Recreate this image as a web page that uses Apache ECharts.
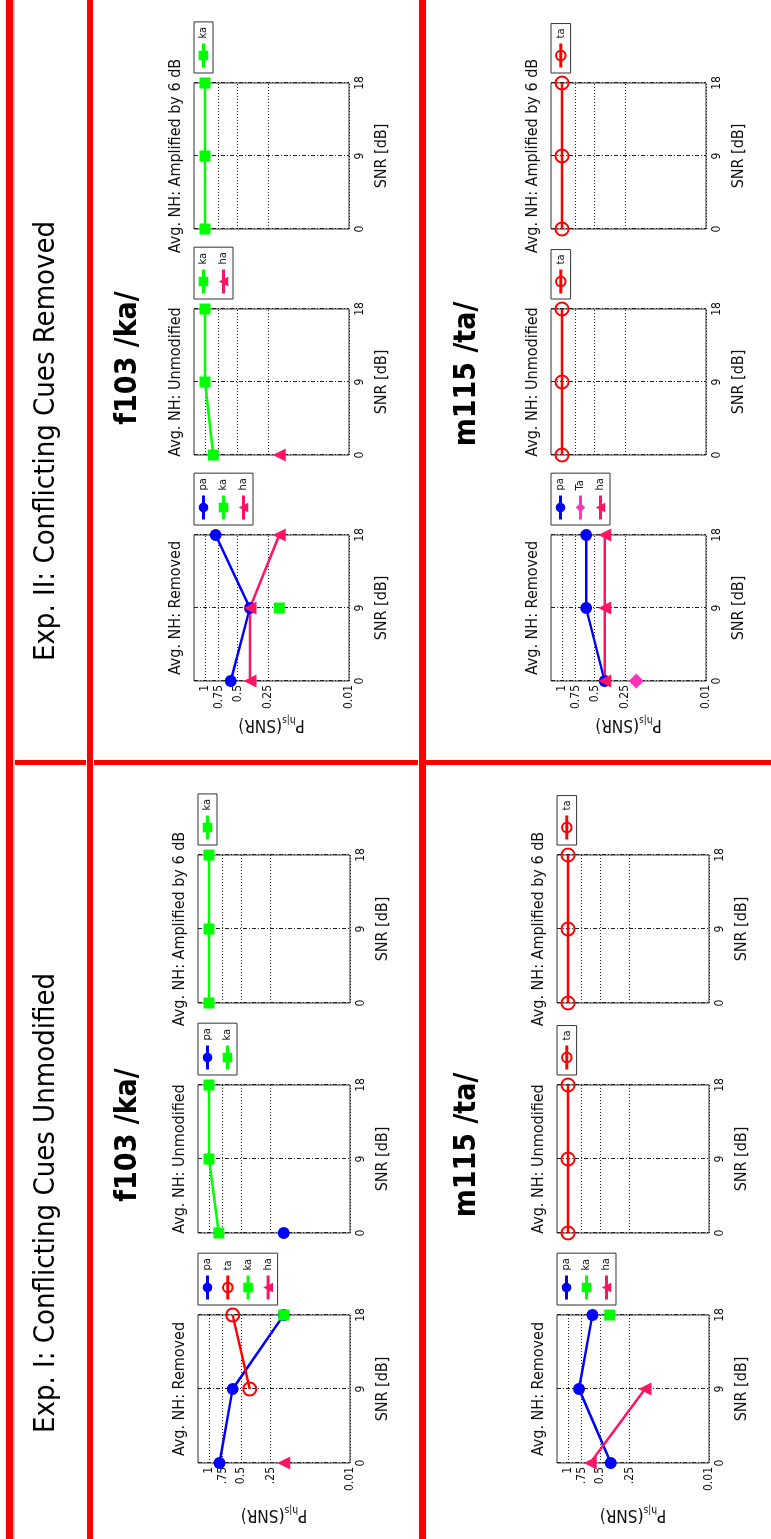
<!DOCTYPE html>
<html>
<head>
<meta charset="utf-8">
<script src="https://cdn.jsdelivr.net/npm/echarts@6/dist/echarts.min.js"></script>
<style>
html, body { margin: 0; padding: 0; background: #fff; width: 771px; height: 1539px; overflow: hidden; }
/* the figure is drawn landscape and turned a quarter turn, like the slide */
#chart { position: absolute; left: 0; top: 0; width: 1539px; height: 771px;
  transform-origin: 0 0; transform: translate(0, 1539px) rotate(-90deg); }
</style>
</head>
<body>
<div id="chart"></div>
<script>
const snr = [0, 9, 18];
const yTicks = [1, 0.75, 0.5, 0.25, 0.01];
const yTickLabelsI = ['1', '.75', '0.5', '.25', '0.01'];
const yTickLabelsII = ['1', '0.75', '0.5', '0.25', '0.01'];
const colTitles = ['Avg. NH: Removed', 'Avg. NH: Unmodified', 'Avg. NH: Amplified by 6 dB'];

// Exp. I  f103 /ka/
const expI_f103_removed_pa = [0.80, 0.60, 0.18];
const expI_f103_removed_ta = [null, 0.41, 0.60];
const expI_f103_removed_ka = [null, null, 0.18];
const expI_f103_removed_ha = [0.18, null, null];
const expI_f103_unmod_pa = [0.18, null, null];
const expI_f103_unmod_ka = [0.81, 1, 1];
const expI_f103_amp_ka = [1, 1, 1];
// Exp. I  m115 /ta/
const expI_m115_removed_pa = [0.39, 0.79, 0.59];
const expI_m115_removed_ka = [null, null, 0.40];
const expI_m115_removed_ha = [0.62, 0.17, null];
const expI_m115_unmod_ta = [1, 1, 1];
const expI_m115_amp_ta = [1, 1, 1];
// Exp. II  f103 /ka/
const expII_f103_removed_pa = [0.58, 0.38, 0.80];
const expII_f103_removed_ka = [null, 0.19, null];
const expII_f103_removed_ha = [0.38, 0.38, 0.19];
const expII_f103_unmod_ka = [0.84, 1, 1];
const expII_f103_unmod_ha = [0.19, null, null];
const expII_f103_amp_ka = [1, 1, 1];
// Exp. II  m115 /ta/
const expII_m115_removed_pa = [0.40, 0.60, 0.60];
const expII_m115_removed_Ta = [0.19, null, null];
const expII_m115_removed_ha = [0.40, 0.40, 0.40];
const expII_m115_unmod_ta = [1, 1, 1];
const expII_m115_amp_ta = [1, 1, 1];

const panels = [
  { exp: 'I', row: 0, col: 0, series: { pa: expI_f103_removed_pa, ta: expI_f103_removed_ta, ka: expI_f103_removed_ka, ha: expI_f103_removed_ha } },
  { exp: 'I', row: 0, col: 1, series: { pa: expI_f103_unmod_pa, ka: expI_f103_unmod_ka } },
  { exp: 'I', row: 0, col: 2, series: { ka: expI_f103_amp_ka } },
  { exp: 'I', row: 1, col: 0, series: { pa: expI_m115_removed_pa, ka: expI_m115_removed_ka, ha: expI_m115_removed_ha } },
  { exp: 'I', row: 1, col: 1, series: { ta: expI_m115_unmod_ta } },
  { exp: 'I', row: 1, col: 2, series: { ta: expI_m115_amp_ta } },
  { exp: 'II', row: 0, col: 0, series: { pa: expII_f103_removed_pa, ka: expII_f103_removed_ka, ha: expII_f103_removed_ha } },
  { exp: 'II', row: 0, col: 1, series: { ka: expII_f103_unmod_ka, ha: expII_f103_unmod_ha } },
  { exp: 'II', row: 0, col: 2, series: { ka: expII_f103_amp_ka } },
  { exp: 'II', row: 1, col: 0, series: { pa: expII_m115_removed_pa, Ta: expII_m115_removed_Ta, ha: expII_m115_removed_ha } },
  { exp: 'II', row: 1, col: 1, series: { ta: expII_m115_unmod_ta } },
  { exp: 'II', row: 1, col: 2, series: { ta: expII_m115_amp_ta } }
];

// y axis of the figure is squeezed near 1: plotted as log(p + 0.05)
const tf = p => Math.log(p + 0.05);

const FONT = '"Liberation Sans Narrow", "DejaVu Sans Condensed", "Arial Narrow", sans-serif';
const INK = '#111';

const marks = {
  pa: { color: '#0000ff', symbol: 'circle', size: 12 },
  ta: { color: '#ff0000', symbol: 'circle', size: 13, hollow: true },
  Ta: { color: '#ff33bb', symbol: 'diamond', size: 15 },
  ka: { color: '#00ff00', symbol: 'rect', size: 11 },
  ha: { color: '#ff1464', symbol: 'triangle', size: 13 }
};

const layout = {
  I:  { left: [76, 306, 536], top: [198, 557], width: 148, height: 152, nameGap: 42, labels: yTickLabelsI },
  II: { left: [858, 1084, 1310], top: [194, 551], width: 146, height: 155, nameGap: 34, labels: yTickLabelsII }
};

const grids = [], xAxes = [], yAxes = [], series = [], legends = [], graphics = [];
const tickT = yTicks.map(tf);

panels.forEach((pn, i) => {
  const L = layout[pn.exp];
  const left = L.left[pn.col], top = L.top[pn.row], w = L.width, h = L.height;
  const k = (h - 11) / (tf(1) - tf(0.01));
  grids.push({ left: left, top: top, width: w, height: h, show: true,
    borderColor: '#333', borderWidth: 1, backgroundColor: '#fff' });
  xAxes.push({
    type: 'value', gridIndex: i, min: 0, max: 18, interval: 9,
    name: 'SNR [dB]', nameLocation: 'middle', nameGap: 25,
    nameTextStyle: { fontFamily: FONT, fontSize: 16, color: INK },
    axisLine: { show: false }, axisTick: { show: false },
    axisLabel: { fontFamily: FONT, fontSize: 12, color: INK, margin: 5 },
    splitLine: { show: true, lineStyle: { color: '#222', type: [4, 2, 1, 2], width: 1 } }
  });
  yAxes.push({
    type: 'value', gridIndex: i, min: tf(0.01), max: tf(1) + 11 / k,
    name: pn.col === 0 ? '{p|P}{s|h|s}{n|(SNR)}' : '',
    nameLocation: 'middle', nameGap: L.nameGap,
    nameTextStyle: {
      rich: {
        p: { fontFamily: FONT, fontSize: 17, color: INK },
        s: { fontFamily: FONT, fontSize: 10, color: INK, padding: [9, 0, 0, 0] },
        n: { fontFamily: FONT, fontSize: 17, color: INK }
      }
    },
    axisLine: { show: false },
    axisTick: { show: false, customValues: tickT },
    axisLabel: {
      show: pn.col === 0, customValues: tickT, fontFamily: FONT, fontSize: 12, color: INK, margin: 4,
      formatter: v => {
        const j = tickT.findIndex(t => Math.abs(t - v) < 1e-6);
        return j < 0 ? '' : L.labels[j];
      }
    },
    splitLine: { show: true, lineStyle: { color: '#222', type: [1, 2], width: 1 } }
  });
  Object.keys(pn.series).forEach(name => {
    const m = marks[name];
    const vals = pn.series[name];
    series.push({
      type: 'line', name: name, xAxisIndex: i, yAxisIndex: i,
      data: snr.map((x, j) => [x, vals[j] == null ? '-' : tf(vals[j])]),
      symbol: m.symbol, symbolSize: m.size, showAllSymbol: true, clip: false,
      lineStyle: { color: m.color, width: 2.5 },
      itemStyle: m.hollow ? { color: 'rgba(255,255,255,0)', borderColor: m.color, borderWidth: 2 } : { color: m.color },
      emphasis: { disabled: true }, animation: false
    });
  });
  legends.push({
    left: left + w + 10, top: top, orient: 'vertical', data: Object.keys(pn.series),
    itemWidth: 24, itemHeight: 12, itemGap: 9, padding: [4, 5, 4, 4],
    lineStyle: { width: 3 },
    borderColor: '#333', borderWidth: 1, backgroundColor: '#fff', selectedMode: false,
    textStyle: { fontFamily: FONT, fontSize: 11, color: INK }
  });
  graphics.push({ type: 'text', x: left + w / 2, y: top - 18,
    style: { text: colTitles[pn.col], fontFamily: FONT, fontSize: 16, fill: INK, align: 'center', verticalAlign: 'middle' } });
});

// headings
const headings = [
  { text: 'Exp. I: Conflicting Cues Unmodified', x: 336, y: 46, size: 29, weight: 'normal' },
  { text: 'Exp. II: Conflicting Cues Removed', x: 1098, y: 46, size: 29, weight: 'normal' },
  { text: 'f103 /ka/', x: 404, y: 128, size: 30, weight: 'bold' },
  { text: 'f103 /ka/', x: 1181, y: 128, size: 30, weight: 'bold' },
  { text: 'm115 /ta/', x: 394, y: 467, size: 30, weight: 'bold' },
  { text: 'm115 /ta/', x: 1165, y: 467, size: 30, weight: 'bold' }
];
headings.forEach(hd => graphics.push({ type: 'text', x: hd.x, y: hd.y,
  style: { text: hd.text, fontFamily: FONT, fontSize: hd.size, fontWeight: hd.weight, fill: '#000', align: 'center', verticalAlign: 'middle' } }));

// red frame of the slide
const bars = [
  [0, 6, 1539, 7, '#ff0000'], [0, 13, 1539, 2, '#c8c8c8'],
  [0, 87, 1539, 6, '#ff0000'], [0, 419, 1539, 7, '#ff0000'],
  [774, 15, 5, 71, '#ff0000'], [774, 94, 5, 324, '#ff0000'], [774, 426, 5, 345, '#ff0000']
];
bars.forEach(b => graphics.push({ type: 'rect', shape: { x: b[0], y: b[1], width: b[2], height: b[3] }, style: { fill: b[4] }, z: 100 }));

const chart = echarts.init(document.getElementById('chart'));
chart.setOption({
  animation: false,
  backgroundColor: '#fff',
  grid: grids, xAxis: xAxes, yAxis: yAxes, series: series, legend: legends,
  graphic: graphics
});
</script>
</body>
</html>
